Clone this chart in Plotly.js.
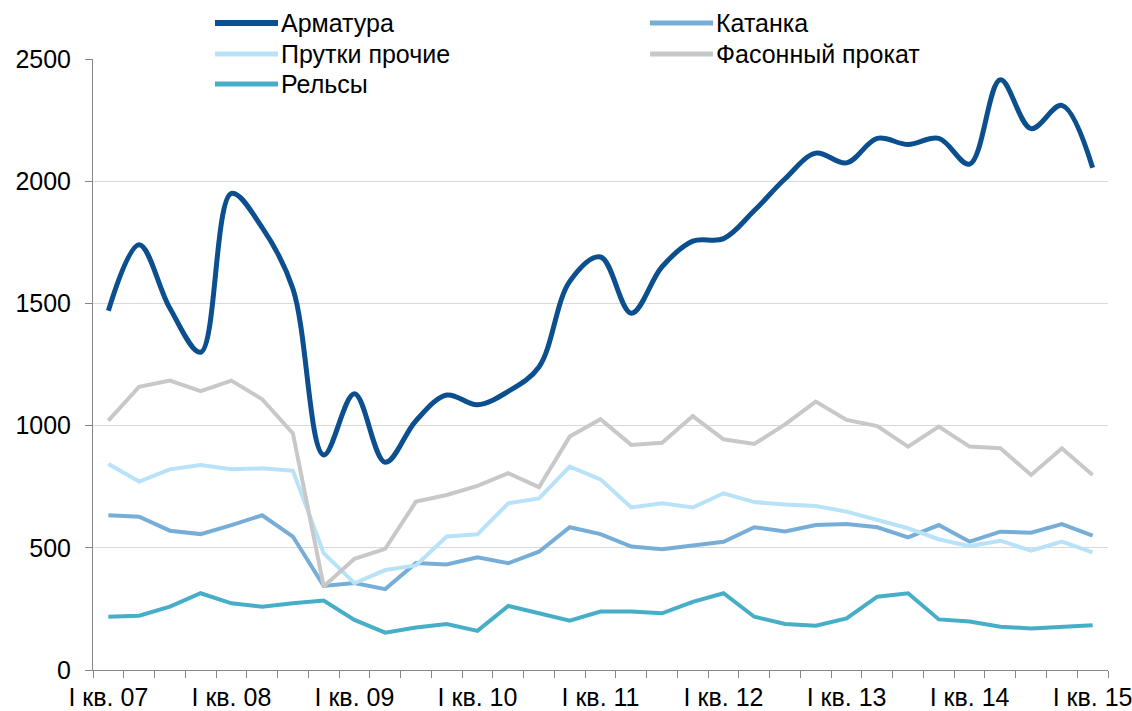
<!DOCTYPE html>
<html><head><meta charset="utf-8">
<script src="https://cdn.plot.ly/plotly-3.0.1.min.js"></script>
<style>html,body{margin:0;padding:0;background:#fff}#chart{width:1132px;height:711px}</style>
</head><body><div id="chart"></div>
<script>
const quarters = [
 "I кв. 07","II кв. 07","III кв. 07","IV кв. 07",
 "I кв. 08","II кв. 08","III кв. 08","IV кв. 08",
 "I кв. 09","II кв. 09","III кв. 09","IV кв. 09",
 "I кв. 10","II кв. 10","III кв. 10","IV кв. 10",
 "I кв. 11","II кв. 11","III кв. 11","IV кв. 11",
 "I кв. 12","II кв. 12","III кв. 12","IV кв. 12",
 "I кв. 13","II кв. 13","III кв. 13","IV кв. 13",
 "I кв. 14","II кв. 14","III кв. 14","IV кв. 14",
 "I кв. 15"];
const tickLabels = [
 "I кв. 07","","","","I кв. 08","","","","I кв. 09","","","",
 "I кв. 10","","","","I кв. 11","","","","I кв. 12","","","",
 "I кв. 13","","","","I кв. 14","","","","I кв. 15"];
const seriesNames = ["Арматура","Катанка","Прутки прочие","Фасонный прокат","Рельсы"];
const armatura = [1470,1740,1480,1300,1950,1810,1560,880,1130,850,1020,1125,1085,1140,1240,1590,1690,1460,1650,1755,1765,1880,2010,2115,2075,2175,2150,2175,2070,2415,2215,2310,2055];
const katanka  = [633,627,570,556,593,633,546,344,356,331,438,432,461,437,484,584,556,505,494,509,525,584,567,593,597,584,543,593,525,566,562,597,550];
const prutki   = [843,771,821,839,821,825,815,478,355,409,428,546,555,682,702,832,780,665,682,665,723,687,677,671,648,614,580,535,507,529,488,525,481];
const fason    = [1020,1159,1184,1141,1184,1108,968,342,455,496,689,716,753,805,748,955,1026,921,930,1039,944,925,1005,1098,1023,998,914,996,914,907,798,907,798];
const relsy    = [218,222,259,314,273,259,273,284,205,153,174,188,160,262,232,202,239,239,232,279,314,218,188,181,211,300,314,207,198,177,170,177,183];
const seriesValues = [armatura, katanka, prutki, fason, relsy];

const colors = ["#0B4F8E","#77AED7","#B8E2F8","#C8C8C8","#46AEC6"];
const widths = [5,4,4,4,4];
const shapesKind = ["spline","linear","linear","linear","linear"];
const FONT = "Liberation Sans, Arial, sans-serif";
const FS = 25;

const traces = seriesNames.map((n,i)=>({
  type:"scatter", mode:"lines", name:n, x:quarters, y:seriesValues[i],
  line:{color:colors[i], width:widths[i], shape:shapesKind[i], smoothing:1},
  showlegend:false, hoverinfo:"x+y+name"
}));

// custom legend (2 columns, filled row-wise)
const plotL = 93, plotW = 1015, plotB = 670, plotH = 611;
const colX = [215, 650], rowY = [23, 54, 84], sampleLen = 63;
const shapes = [], annotations = [];
seriesNames.forEach((n,i)=>{
  const c = i % 2, r = Math.floor(i/2);
  const px0 = colX[c], py = rowY[r];
  shapes.push({type:"line", xref:"paper", yref:"paper",
    x0:(px0-plotL)/plotW, x1:(px0+sampleLen-plotL)/plotW,
    y0:(plotB-py)/plotH, y1:(plotB-py)/plotH,
    line:{color:colors[i], width:widths[i]+1}});
  annotations.push({xref:"paper", yref:"paper", x:(px0+sampleLen+1-plotL)/plotW, y:(plotB-py)/plotH,
    xanchor:"left", yanchor:"middle", showarrow:false, text:n,
    font:{family:FONT, size:FS, color:"#000"}});
});

const layout = {
  width:1132, height:711,
  margin:{l:93, r:24, t:59, b:41},
  paper_bgcolor:"#fff", plot_bgcolor:"#fff",
  font:{family:FONT, size:FS, color:"#000"},
  showlegend:false,
  xaxis:{type:"category", range:[-0.5,32.5], tickmode:"array", tickvals:quarters, ticktext:tickLabels,
    tickson:"boundaries", ticks:"outside", ticklen:7, tickcolor:"#868686", tickwidth:1, tickangle:0,
    showline:true, linecolor:"#868686", linewidth:1, showgrid:false, zeroline:false,
    tickfont:{family:FONT, size:FS, color:"#000"}, ticklabelstandoff:5, fixedrange:true},
  yaxis:{range:[0,2500], tick0:0, dtick:500, ticks:"outside", ticklen:7, tickcolor:"#868686",
    showline:true, linecolor:"#868686", linewidth:1, showgrid:true, gridcolor:"#D9D9D9", gridwidth:1,
    zeroline:false, tickfont:{family:FONT, size:FS, color:"#000"}, ticklabelstandoff:9, fixedrange:true},
  shapes:shapes, annotations:annotations
};
Plotly.newPlot("chart", traces, layout, {displayModeBar:false, staticPlot:true});
</script></body></html>
